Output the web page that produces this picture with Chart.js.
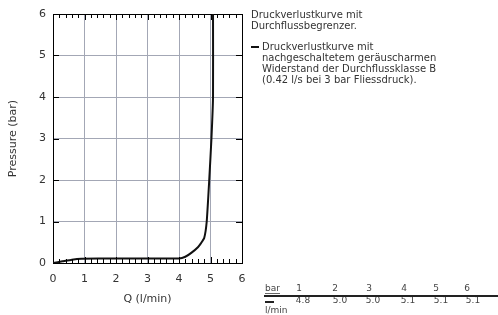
<!DOCTYPE html>
<html>
<head>
<meta charset="utf-8">
<script src="https://cdn.jsdelivr.net/npm/chart.js@4"></script>
<style>
  body { margin: 0; background: #fff; }
  #wrap { position: relative; width: 498px; height: 315px; }
</style>
</head>
<body>
<div id="wrap"><canvas id="myChart" width="498" height="315"></canvas></div>
<script>
// curve
const flowValues = [0, 0.3, 0.6, 0.9, 2.0, 4.0, 4.2, 4.4, 4.6, 4.7, 4.8, 4.88, 4.96, 5.03, 5.08, 5.08];
const pressureValues = [0, 0.04, 0.08, 0.1, 0.11, 0.11, 0.15, 0.25, 0.38, 0.48, 0.6, 1.0, 2.0, 3.0, 4.0, 6.0];

const legendLines1 = ["Druckverlustkurve mit", "Durchflussbegrenzer."];
const legendLines2 = ["Druckverlustkurve mit", "nachgeschaltetem geräuscharmen", "Widerstand der Durchflussklasse B", "(0.42 l/s bei 3 bar Fliessdruck)."];

const tableBar = ["1", "2", "3", "4", "5", "6"];
const tableFlow = ["4.8", "5.0", "5.0", "5.1", "5.1", "5.1"];

const FONT = "DejaVu Sans";

// extra stuff: minor ticks, legend text and the small table
const decorations = {
    id: "decorations",
    afterDraw(chart) {
        const ctx = chart.ctx;
        const x = chart.scales.x, y = chart.scales.y;
        const a = chart.chartArea;
        ctx.save();
        ctx.strokeStyle = "#000";
        ctx.lineWidth = 1;
        ctx.beginPath();
        // minor ticks on x, top and bottom
        for (let i = 1; i < 30; i++) {
            const px = Math.round(x.getPixelForValue(i * 0.2)) + 0.5;
            const len = i % 5 === 0 ? 6 : 4;
            ctx.moveTo(px, a.top); ctx.lineTo(px, a.top + len);
            ctx.moveTo(px, a.bottom); ctx.lineTo(px, a.bottom - len);
        }
        // major ticks on y, both sides
        for (let v = 1; v < 6; v++) {
            const py = Math.round(y.getPixelForValue(v)) + 0.5;
            ctx.moveTo(a.left, py); ctx.lineTo(a.left + 6, py);
            ctx.moveTo(a.right, py); ctx.lineTo(a.right - 6, py);
        }
        ctx.stroke();

        // legend text
        ctx.fillStyle = "#333";
        ctx.font = "10px '" + FONT + "'";
        ctx.textBaseline = "middle";
        ctx.textAlign = "left";
        legendLines1.forEach((t, i) => ctx.fillText(t, 251, 15 + i * 11));
        legendLines2.forEach((t, i) => ctx.fillText(t, 262, 47 + i * 11));
        ctx.fillStyle = "#111";
        ctx.fillRect(251, 46, 8, 2);

        // table
        ctx.font = "9px '" + FONT + "'";
        ctx.fillStyle = "#444";
        ctx.fillText("bar", 265, 289);
        ctx.fillRect(265, 293, 15, 0.8);
        const barX = [299, 335, 369, 404, 436, 467];
        const flowX = [303, 340, 373, 408, 441, 473];
        ctx.textAlign = "center";
        tableBar.forEach((t, i) => ctx.fillText(t, barX[i], 289));
        tableFlow.forEach((t, i) => ctx.fillText(t, flowX[i], 301));
        ctx.fillStyle = "#222";
        ctx.fillRect(264, 295, 234, 2);
        ctx.fillRect(265, 301, 9, 2);
        ctx.fillStyle = "#444";
        ctx.textAlign = "left";
        ctx.fillText("l/min", 265, 311);
        ctx.restore();
    }
};

const ctx = document.getElementById("myChart").getContext("2d");
new Chart(ctx, {
    type: "line",
    data: {
        datasets: [{
            data: flowValues.map((q, i) => ({ x: q, y: pressureValues[i] })),
            borderColor: "#111",
            borderWidth: 2,
            pointRadius: 0,
            tension: 0.15,
            fill: false
        }]
    },
    options: {
        responsive: false,
        animation: false,
        layout: { padding: { top: 14, right: 256, left: 0, bottom: 0 } },
        plugins: { legend: { display: false }, tooltip: { enabled: false } },
        scales: {
            x: {
                type: "linear",
                min: 0, max: 6,
                afterFit(s) { s.height = 52; },
                ticks: { stepSize: 1, color: "#333", font: { family: FONT, size: 11 }, padding: 10 },
                grid: { color: "#a3a7b5", drawTicks: false },
                border: { color: "#000", width: 1 },
                title: { display: true, text: "Q (l/min)", color: "#333", font: { family: FONT, size: 11 }, padding: { top: 8, bottom: 9 } }
            },
            y: {
                min: 0, max: 6,
                afterFit(s) { s.width = 53; },
                ticks: { stepSize: 1, color: "#333", font: { family: FONT, size: 11 }, padding: 7 },
                grid: { color: "#a3a7b5", drawTicks: false },
                border: { color: "#000", width: 1 },
                title: { display: true, text: "Pressure (bar)", color: "#333", font: { family: FONT, size: 11 }, padding: { top: 7, bottom: 12 } }
            },
            x2: {
                type: "linear", position: "top", min: 0, max: 6,
                ticks: { display: false }, grid: { display: false, drawTicks: false },
                border: { color: "#000", width: 1 }
            },
            y2: {
                position: "right", min: 0, max: 6,
                ticks: { display: false }, grid: { display: false, drawTicks: false },
                border: { color: "#000", width: 1 }
            }
        }
    },
    plugins: [decorations]
});
</script>
</body>
</html>
